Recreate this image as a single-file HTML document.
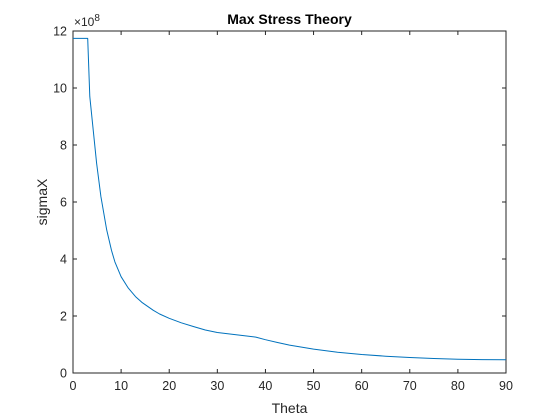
<!DOCTYPE html>
<html><head><meta charset="utf-8"><style>
body{margin:0;background:#fff}
svg{display:block;font-family:"Liberation Sans",sans-serif}
</style></head><body>
<svg width="560" height="420" id="c">
<rect width="560" height="420" fill="#fff"/>
</svg>
<script>
const thetas=[0,1,2,3.05,3.5,4.2,4.9,5.8,7.0,8.0,8.7,10,11.5,13,14.3,16.7,18,20,22.5,25,27.5,30,35,38,40,42.5,45,50,55,60,65,70,75,80,85,90];
const sigma=[11.74,11.74,11.74,11.74,9.7,8.53,7.36,6.19,5.02,4.3,3.9,3.38,2.98,2.68,2.48,2.2,2.07,1.92,1.76,1.63,1.51,1.42,1.32,1.26,1.17,1.07,0.98,0.84,0.73,0.65,0.59,0.545,0.51,0.485,0.47,0.465];
const xTicks=[0,10,20,30,40,50,60,70,80,90];
const yTicks=[0,2,4,6,8,10,12];
const L=73,R=506,T=31,B=373;
const X=v=>L+(v-0)/90*(R-L);
const Y=v=>B-(v-0)/12*(B-T);
const svg=document.getElementById('c');
const NS='http://www.w3.org/2000/svg';
function mk(tag,attrs,text){const e=document.createElementNS(NS,tag);for(const k in attrs)e.setAttribute(k,attrs[k]);if(text!==undefined)e.textContent=text;svg.appendChild(e);return e;}
let e=mk('rect',{x:L,y:T,width:R-L,height:B-T,fill:'#fff',stroke:'#262626','stroke-width':1});


xTicks.forEach(t=>{
 const x=X(t);
 mk('line',{x1:x,x2:x,y1:B,y2:B-4,stroke:'#262626'});
 mk('line',{x1:x,x2:x,y1:T,y2:T+4,stroke:'#262626'});
 const l=mk('text',{x:x,y:B+17,'text-anchor':'middle','font-size':12.5,fill:'#262626'},t);
 
 
});
yTicks.forEach(t=>{
 const y=Y(t);
 mk('line',{x1:L,x2:L+4,y1:y,y2:y,stroke:'#262626'});
 mk('line',{x1:R,x2:R-4,y1:y,y2:y,stroke:'#262626'});
 const l=mk('text',{x:L-6,y:y+4.5,'text-anchor':'end','font-size':12.5,fill:'#262626'},t);
 
 
});
const pts=thetas.map((t,i)=>X(t).toFixed(1)+','+Y(sigma[i]).toFixed(1)).join(' ');
const pl=mk('polyline',{points:pts,fill:'none',stroke:'#0072BD','stroke-width':1,'stroke-linejoin':'round'});


const ex=mk('text',{x:74,y:26,'font-size':12,fill:'#262626'});


ex.innerHTML='×10<tspan dy="-5" font-size="10">8</tspan>';
const ti=mk('text',{x:(L+R)/2,y:24,'text-anchor':'middle','font-size':14,'font-weight':'bold',fill:'#000'},'Max Stress Theory');


const xl=mk('text',{x:(L+R)/2,y:413,'text-anchor':'middle','font-size':14,fill:'#262626'},'Theta');


const yl=mk('text',{x:0,y:0,'text-anchor':'middle','font-size':14,fill:'#262626',transform:'translate(47,'+((T+B)/2)+') rotate(-90)'},'sigmaX');


</script>
</body></html>
